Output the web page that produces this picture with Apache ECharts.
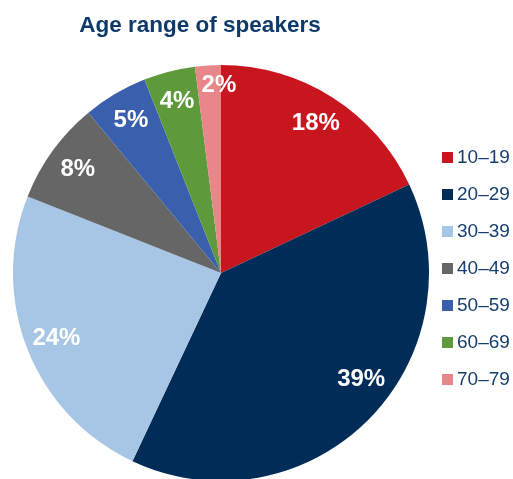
<!DOCTYPE html>
<html>
<head>
<meta charset="utf-8">
<script src="https://cdn.jsdelivr.net/npm/echarts@6/dist/echarts.min.js"></script>
<style>
    html, body { margin: 0; padding: 0; background: #fff; }
    #chart { width: 513px; height: 479px; }
</style>
</head>
<body>
<div id="chart"></div>
<script>
const categories = ['10–19', '20–29', '30–39', '40–49', '50–59', '60–69', '70–79'];
const shares = [18, 39, 24, 8, 5, 4, 2];
const colors = ['#c8161e', '#002d57', '#a7c6e5', '#666666', '#3a5fad', '#5e9a3c', '#e8868a'];

const chart = echarts.init(document.getElementById('chart'));

const pieData = categories.map((name, i) => ({
    name: name,
    value: shares[i],
    itemStyle: { color: colors[i] }
}));

// label nudges, same as in the original
const labelOffsets = { '20–29': [15, -19], '70–79': [9, -11] };

// transparent ring on top, only used to place the labels near the rim
const labelData = categories.map((name, i) => {
    const item = { name: name, value: shares[i] };
    if (labelOffsets[name]) {
        item.label = { offset: labelOffsets[name] };
    }
    return item;
});

const option = {
    animation: false,
    title: {
        text: 'Age range of speakers',
        left: 195,
        top: 9,
        textAlign: 'center',
        textStyle: {
            color: '#0d3a6b',
            fontSize: 22.5,
            fontWeight: 'bold',
            fontFamily: 'Liberation Sans'
        }
    },
    legend: {
        orient: 'vertical',
        left: 437,
        top: 143,
        icon: 'rect',
        itemWidth: 11,
        itemHeight: 11,
        itemGap: 18,
        textStyle: {
            color: '#173f6d',
            fontSize: 19,
            fontFamily: 'Liberation Sans',
            padding: [0, 0, 0, -1]
        },
        data: categories
    },
    series: [
        {
            type: 'pie',
            center: [221, 273],
            radius: [0, 208],
            startAngle: 90,
            clockwise: true,
            label: { show: false },
            labelLine: { show: false },
            emphasis: { disabled: true },
            itemStyle: { borderWidth: 0 },
            data: pieData
        },
        {
            type: 'pie',
            center: [221, 273],
            radius: [140, 208],
            startAngle: 90,
            clockwise: true,
            silent: true,
            legendHoverLink: false,
            itemStyle: { color: 'rgba(0,0,0,0)' },
            label: {
                show: true,
                position: 'inside',
                formatter: '{c}%',
                color: '#fff',
                fontSize: 24,
                fontWeight: 'bold',
                fontFamily: 'Liberation Sans'
            },
            labelLine: { show: false },
            emphasis: { disabled: true },
            data: labelData
        }
    ]
};

chart.setOption(option);
</script>
</body>
</html>
